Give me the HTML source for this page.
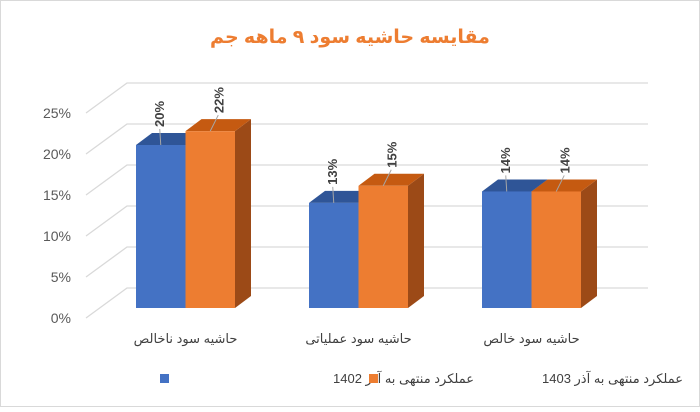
<!DOCTYPE html>
<html><head><meta charset="utf-8">
<style>
html,body{margin:0;padding:0;background:#fff;}
body{width:700px;height:407px;overflow:hidden;}
svg text{font-family:"Liberation Sans","DejaVu Sans",sans-serif;}
</style></head>
<body>
<svg width="700" height="407" viewBox="0 0 700 407">
<rect x="0.5" y="0.5" width="699" height="406" fill="#fff" stroke="#d9d9d9"/>
<text x="350" y="43" text-anchor="middle" font-size="19" font-weight="bold" fill="#ed7d31" direction="rtl">مقایسه حاشیه سود ۹ ماهه جم</text>
<g id="grid"></g>
<g id="yaxis"></g>
<g id="bars"></g>
<g id="xaxis"></g>
<g>
<g>
<rect x="160" y="374" width="9" height="9" fill="#4472c4"/>
<text x="333" y="383" text-anchor="end" font-size="13" fill="#404040"><tspan direction="rtl" unicode-bidi="embed">عملکرد منتهی به آذر 1402</tspan></text>
</g>
<g>
<rect x="369" y="374" width="9" height="9" fill="#ed7d31"/>
<text x="542" y="383" text-anchor="end" font-size="13" fill="#404040"><tspan direction="rtl" unicode-bidi="embed">عملکرد منتهی به آذر 1403</tspan></text>
</g>
</g>
</svg>
<script>
const categories=["حاشیه سود ناخالص","حاشیه سود عملیاتی","حاشیه سود خالص"];
const series1402=[20,12.9,14.3];
const series1403=[21.7,15,14.3];
const labels1402=["20%","13%","14%"];
const labels1403=["22%","15%","14%"];
const yTicks=[0,5,10,15,20,25];
const yTickLabels=["0%","5%","10%","15%","20%","25%"];

const NS="http://www.w3.org/2000/svg";
function mk(tag,attrs,parent){const e=document.createElementNS(NS,tag);for(const k in attrs)e.setAttribute(k,attrs[k]);parent.appendChild(e);return e;}
const frontY=v=>318-v*41/5;
const backY=v=>288-v*41/5;
const barY=v=>308-v*8.15;
const groupX=i=>136+i*173;
const BW=49.5, DX=16, DY=-12;

const grid=document.getElementById('grid'),yaxis=document.getElementById('yaxis');
yTicks.forEach((t,i)=>{
  const l=mk('polyline',{points:`86,${frontY(t)} 127,${backY(t)} 648,${backY(t)}`,fill:'none',stroke:'#d9d9d9','stroke-width':1.3},grid);
  
  
  const tx=mk('text',{x:71,y:frontY(t)+5,'text-anchor':'end','font-size':14,fill:'#595959'},yaxis);
  tx.textContent=yTickLabels[i];
  
  
});

const bars=document.getElementById('bars');
function bar(x,v,front,top,side,lab,name){
  const g=mk('g',{},bars);
  
  
  const y=barY(v),b=barY(0);
  mk('polygon',{points:`${x+BW},${b} ${x+BW+DX},${b+DY} ${x+BW+DX},${y+DY} ${x+BW},${y}`,fill:side},g);
  mk('polygon',{points:`${x},${y} ${x+DX},${y+DY} ${x+BW+DX},${y+DY} ${x+BW},${y}`,fill:top},g);
  mk('rect',{x:x,y:y,width:BW,height:b-y,fill:front},g);
  const cx=x+BW/2;
  mk('line',{x1:cx,y1:y,x2:cx+ (name.includes('1403')?8:-1),y2:y-16,stroke:'#a6a6a6','stroke-width':1},g);
  const t=mk('text',{x:0,y:0,'font-size':13,'font-weight':'bold',fill:'#404040',transform:`translate(${cx+ (name.includes('1403')?13:3)},${y-18}) rotate(-90)`},g);
  t.textContent=lab;
  
  
}
const xaxis=document.getElementById('xaxis');
categories.forEach((c,i)=>{
  const x=groupX(i);
  bar(x,series1402[i],'#4472c4','#2f5597','#2f5597',labels1402[i],'bar-1402-'+i);
  bar(x+BW,series1403[i],'#ed7d31','#c55a11','#9c4a17',labels1403[i],'bar-1403-'+i);
  const t=mk('text',{x:x+BW,y:343,'text-anchor':'middle','font-size':13,fill:'#404040',direction:'rtl'},xaxis);
  t.textContent=c;
  
  
});
</script>
</body></html>
